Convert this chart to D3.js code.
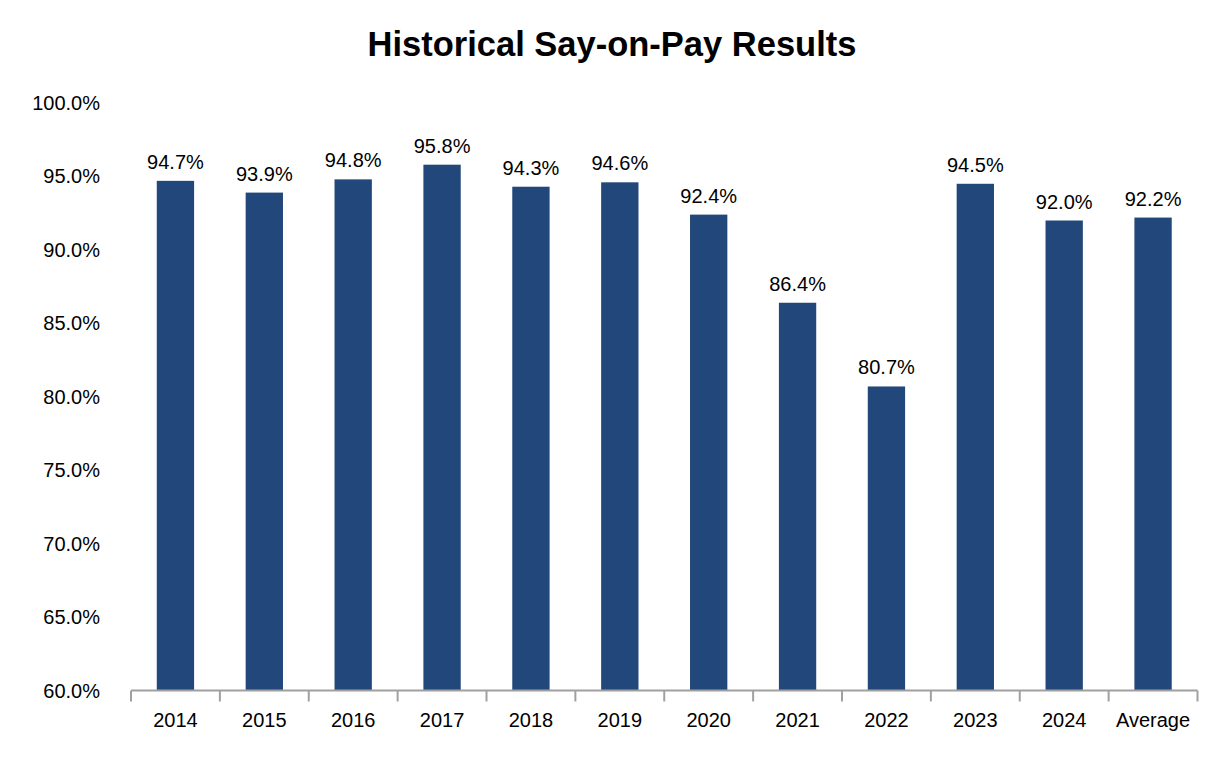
<!DOCTYPE html>
<html lang="en">
<head>
    <meta charset="UTF-8">
    <title>Historical Say-on-Pay Results</title>
    <script src="https://d3js.org/d3.v7.min.js"></script>
    <style>
        body { margin: 0; background: white; }
        text { font-family: 'Liberation Sans', Arial, sans-serif; fill: black; }
    </style>
</head>
<body>
<script>
    const width = 1226;
    const height = 760;

    const categories = ['2014', '2015', '2016', '2017', '2018', '2019', '2020', '2021', '2022', '2023', '2024', 'Average'];
    const values = [94.7, 93.9, 94.8, 95.8, 94.3, 94.6, 92.4, 86.4, 80.7, 94.5, 92.0, 92.2];
    const yTicks = [60, 65, 70, 75, 80, 85, 90, 95, 100];

    const plotLeft = 131, plotRight = 1197.5, plotTop = 103, plotBottom = 690.5;

    const svg = d3.select('body').append('svg').attr('width', width).attr('height', height);

    const x = d3.scaleBand().domain(categories).range([plotLeft, plotRight]).paddingInner(0.58).paddingOuter(0.29);
    const y = d3.scaleLinear().domain([60, 100]).range([plotBottom, plotTop]);

    svg.append('text')
        .attr('x', 612).attr('y', 56)
        .attr('text-anchor', 'middle')
        .style('font-size', '34.5px').style('font-weight', 'bold')
        .text('Historical Say-on-Pay Results');

    // y labels (no axis line)
    svg.selectAll('.ylab')
        .data(yTicks).enter()
        .append('text')
        .attr('class', 'ylab')
        .attr('x', 100)
        .attr('y', d => y(d))
        .attr('dy', '0.35em')
        .attr('text-anchor', 'end')
        .style('font-size', '20px')
        .text(d => d.toFixed(1) + '%');

    svg.selectAll('rect')
        .data(values).enter()
        .append('rect')
        .attr('x', (d, i) => x(categories[i]))
        .attr('y', d => y(d))
        .attr('width', x.bandwidth())
        .attr('height', d => plotBottom - y(d))
        .style('fill', '#22477a');

    svg.selectAll('.vlab')
        .data(values).enter()
        .append('text')
        .attr('class', 'vlab')
        .attr('x', (d, i) => x(categories[i]) + x.bandwidth() / 2)
        .attr('y', d => y(d) - 12)
        .attr('text-anchor', 'middle')
        .style('font-size', '20px')
        .text(d => d.toFixed(1) + '%');

    // x axis with boundary ticks
    const step = (plotRight - plotLeft) / categories.length;
    svg.append('line')
        .attr('x1', plotLeft).attr('x2', plotRight)
        .attr('y1', plotBottom).attr('y2', plotBottom)
        .style('stroke', '#a0a0a0').style('stroke-width', 2);
    svg.selectAll('.tick')
        .data(d3.range(categories.length + 1)).enter()
        .append('line')
        .attr('class', 'tick')
        .attr('x1', i => plotLeft + i * step).attr('x2', i => plotLeft + i * step)
        .attr('y1', plotBottom).attr('y2', plotBottom + 11)
        .style('stroke', '#a0a0a0').style('stroke-width', 2);

    svg.selectAll('.xlab')
        .data(categories).enter()
        .append('text')
        .attr('class', 'xlab')
        .attr('x', d => x(d) + x.bandwidth() / 2)
        .attr('y', 727)
        .attr('text-anchor', 'middle')
        .style('font-size', '20px')
        .text(d => d);
</script>
</body>
</html>
